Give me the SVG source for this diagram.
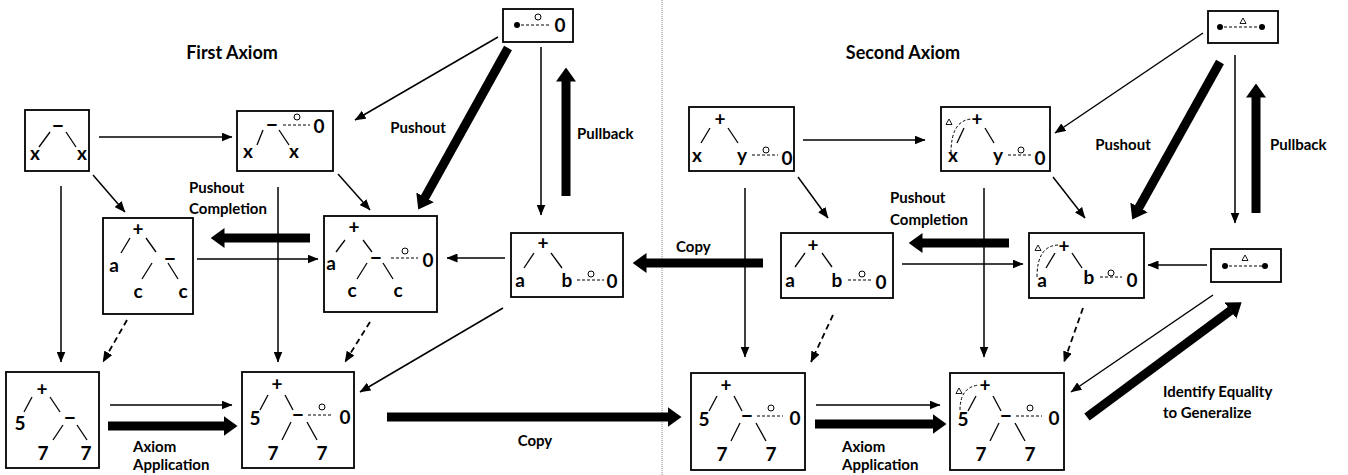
<svg xmlns="http://www.w3.org/2000/svg" width="1348" height="475" viewBox="0 0 1348 475">
<style>
text{font-family:Lato,"Open Sans","Liberation Sans",sans-serif;font-weight:700;fill:#000}
.t{font-size:18px;text-anchor:middle}
.lb{font-size:15px}
.n{font-size:19px;text-anchor:middle}
.m{font-size:23px;text-anchor:middle}
.box{fill:#fff;stroke:#000;stroke-width:1.8}
.br{stroke:#000;stroke-width:1.3;fill:none}
.dl{stroke:#000;stroke-width:1;stroke-dasharray:3,2;fill:none}
.sc{fill:#fff;stroke:#000;stroke-width:1}
.dot{fill:#000}
.tri{fill:#fff;stroke:#000;stroke-width:0.9}
.th{stroke:#000;stroke-width:1.5;fill:none;marker-end:url(#ah)}
.da{stroke:#000;stroke-width:1.8;stroke-dasharray:6,4;fill:none;marker-end:url(#ah)}
.tk{stroke:#000;stroke-width:9;fill:none;marker-end:url(#ahT)}
</style>
<defs>
<marker id="ah" markerWidth="11" markerHeight="9" refX="10.5" refY="4.5" orient="auto" markerUnits="userSpaceOnUse"><path d="M0,0 L11,4.5 L0,9 z" fill="#000"/></marker>
<marker id="ahT" markerWidth="14" markerHeight="20" refX="0.5" refY="10" orient="auto" markerUnits="userSpaceOnUse"><path d="M0,0 L14,10 L0,20 z" fill="#000"/></marker>
</defs>
<rect width="1348" height="475" fill="#fff"/>
<line x1="662" y1="0" x2="662" y2="475" stroke="#888" stroke-width="1" stroke-dasharray="1,1"/>
<text class="t" x="232" y="59">First Axiom</text>
<text class="t" x="903" y="59">Second Axiom</text>

<g id="connectors">
<line class="th" x1="99" y1="137" x2="232" y2="137"/>
<line class="th" x1="93" y1="175" x2="125" y2="212"/>
<line class="th" x1="61" y1="186" x2="61" y2="362"/>
<line class="th" x1="338" y1="174" x2="370" y2="210"/>
<line class="th" x1="278" y1="187" x2="278" y2="362"/>
<line class="th" x1="498" y1="37" x2="355" y2="120"/>
<line class="th" x1="541" y1="47" x2="541" y2="215"/>
<line class="th" x1="197" y1="259" x2="318" y2="259"/>
<line class="th" x1="505" y1="258" x2="447" y2="258"/>
<line class="th" x1="503" y1="308" x2="360" y2="392"/>
<line class="th" x1="110" y1="405" x2="232" y2="405"/>
<line class="da" x1="127" y1="320" x2="103" y2="362"/>
<line class="da" x1="370" y1="322" x2="345" y2="362"/>
<line class="th" x1="803" y1="140" x2="925" y2="140"/>
<line class="th" x1="798" y1="177" x2="828" y2="218"/>
<line class="th" x1="745" y1="188" x2="745" y2="357"/>
<line class="th" x1="1053" y1="177" x2="1085" y2="218"/>
<line class="th" x1="984" y1="188" x2="984" y2="357"/>
<line class="th" x1="1203" y1="33" x2="1055" y2="133"/>
<line class="th" x1="1235" y1="55" x2="1235" y2="223"/>
<line class="th" x1="1207" y1="265" x2="1148" y2="265"/>
<line class="th" x1="902" y1="264" x2="1023" y2="264"/>
<line class="th" x1="816" y1="405" x2="940" y2="405"/>
<line class="th" x1="1213" y1="295" x2="1071" y2="392"/>
<line class="da" x1="833" y1="315" x2="811" y2="362"/>
<line class="da" x1="1083" y1="308" x2="1064" y2="362"/>
<line class="tk" x1="508" y1="48" x2="424.8" y2="197.8"/>
<line class="tk" x1="566" y1="196" x2="566" y2="81"/>
<line class="tk" x1="310" y1="238" x2="224" y2="238"/>
<line class="tk" x1="763" y1="263" x2="646" y2="263"/>
<line class="tk" x1="108" y1="426" x2="224" y2="426"/>
<line class="tk" x1="387" y1="417" x2="668" y2="417"/>
<line class="tk" x1="1220" y1="62" x2="1138.8" y2="207.8"/>
<line class="tk" x1="1256" y1="213" x2="1256" y2="97"/>
<line class="tk" x1="1009" y1="243" x2="922" y2="243"/>
<line class="tk" x1="815" y1="424" x2="933" y2="424"/>
<line class="tk" x1="1087" y1="417" x2="1230.8" y2="310.3"/>
</g>

<g id="labels">
<text class="lb" x="418" y="133" text-anchor="middle">Pushout</text>
<text class="lb" x="577" y="139">Pullback</text>
<text class="lb" x="189" y="193">Pushout</text>
<text class="lb" x="189" y="214">Completion</text>
<text class="lb" x="133" y="452">Axiom</text>
<text class="lb" x="133" y="470">Application</text>
<text class="lb" x="535" y="446" text-anchor="middle">Copy</text>
<text class="lb" x="676" y="252">Copy</text>
<text class="lb" x="890" y="203">Pushout</text>
<text class="lb" x="890" y="225">Completion</text>
<text class="lb" x="1123" y="150" text-anchor="middle">Pushout</text>
<text class="lb" x="1270" y="150">Pullback</text>
<text class="lb" x="842" y="452">Axiom</text>
<text class="lb" x="842" y="470">Application</text>
<text class="lb" x="1163" y="397">Identify Equality</text>
<text class="lb" x="1163" y="418">to Generalize</text>
</g>

<g id="n1">
<rect class="box" x="25" y="110" width="64" height="61"/>
<text class="m" x="58" y="132.6">–</text>
<line class="br" x1="50" y1="132" x2="39" y2="147"/><line class="br" x1="66" y1="132" x2="76" y2="147"/>
<text class="n" x="35" y="160">x</text><text class="n" x="82" y="160">x</text>
</g>

<g id="n2">
<rect class="box" x="237" y="111" width="96" height="60"/>
<text class="m" x="272" y="131.6">–</text>
<line class="dl" x1="283" y1="125" x2="310" y2="125"/>
<circle class="sc" cx="297" cy="117" r="3"/>
<text class="n" x="319" y="132.5">0</text>
<line class="br" x1="263" y1="130" x2="257" y2="145"/><line class="br" x1="279" y1="130" x2="289" y2="145"/>
<text class="n" x="248" y="157.6">x</text><text class="n" x="294" y="157.6">x</text>
</g>

<g id="n3">
<rect class="box" x="503" y="9" width="70" height="33"/>
<circle class="dot" cx="517" cy="25" r="3"/>
<line class="dl" x1="521" y1="25" x2="550" y2="25"/>
<circle class="sc" cx="538" cy="17" r="3"/>
<text class="n" x="560" y="31.5">0</text>
</g>

<g id="n4">
<rect class="box" x="103" y="218" width="90" height="96"/>
<text class="n" x="138" y="236">+</text>
<line class="br" x1="130" y1="238" x2="121" y2="253"/><line class="br" x1="146" y1="238" x2="156" y2="252"/>
<text class="n" x="114" y="271.6">a</text>
<text class="m" x="170" y="265.6">–</text>
<line class="br" x1="152" y1="263" x2="142" y2="279"/><line class="br" x1="168" y1="263" x2="178" y2="279"/>
<text class="n" x="138" y="297.6">c</text><text class="n" x="183" y="297.6">c</text>
</g>

<g id="n5">
<rect class="box" x="324" y="216" width="113" height="96"/>
<text class="n" x="354" y="234">+</text>
<line class="br" x1="345" y1="240" x2="336" y2="252"/><line class="br" x1="363" y1="240" x2="372" y2="252"/>
<text class="n" x="331" y="269.6">a</text>
<text class="m" x="376" y="264.6">–</text>
<line class="dl" x1="391" y1="258" x2="418" y2="258"/>
<circle class="sc" cx="405" cy="251" r="3"/>
<text class="n" x="428" y="266.5">0</text>
<line class="br" x1="367" y1="263" x2="357" y2="279"/><line class="br" x1="383" y1="263" x2="393" y2="279"/>
<text class="n" x="352" y="296.6">c</text><text class="n" x="398" y="296.6">c</text>
</g>

<g id="n6">
<rect class="box" x="511" y="233" width="112" height="64"/>
<text class="n" x="543" y="250">+</text>
<line class="br" x1="534" y1="253" x2="524" y2="268"/><line class="br" x1="551" y1="253" x2="562" y2="268"/>
<text class="n" x="520" y="286.6">a</text>
<text class="n" x="567" y="286.5">b</text>
<line class="dl" x1="577" y1="280" x2="604" y2="280"/>
<circle class="sc" cx="591" cy="274" r="3"/>
<text class="n" x="612" y="287.5">0</text>
</g>

<g id="n7">
<rect class="box" x="6" y="372" width="93" height="96"/>
<text class="n" x="42" y="396">+</text>
<line class="br" x1="32" y1="397" x2="24" y2="412"/><line class="br" x1="50" y1="397" x2="60" y2="412"/>
<text class="n" x="20" y="429.5">5</text>
<text class="m" x="70" y="424.6">–</text>
<line class="br" x1="63" y1="425" x2="53" y2="440"/><line class="br" x1="77" y1="425" x2="87" y2="440"/>
<text class="n" x="43" y="459.5">7</text><text class="n" x="86" y="459.5">7</text>
</g>

<g id="n8">
<rect class="box" x="242" y="372" width="112" height="96"/>
<text class="n" x="277" y="391">+</text>
<line class="br" x1="268" y1="395" x2="260" y2="410"/><line class="br" x1="285" y1="395" x2="293" y2="410"/>
<text class="n" x="255" y="424.5">5</text>
<text class="m" x="298" y="421.6">–</text>
<line class="dl" x1="308" y1="415" x2="332" y2="415"/>
<circle class="sc" cx="322" cy="407" r="3"/>
<text class="n" x="345" y="423.5">0</text>
<line class="br" x1="291" y1="422" x2="282" y2="440"/><line class="br" x1="307" y1="422" x2="317" y2="440"/>
<text class="n" x="273" y="459.5">7</text><text class="n" x="322" y="459.5">7</text>
</g>

<g id="n9">
<rect class="box" x="689" y="107" width="105" height="64"/>
<text class="n" x="720" y="126">+</text>
<line class="br" x1="710" y1="128" x2="701" y2="143"/><line class="br" x1="728" y1="128" x2="738" y2="143"/>
<text class="n" x="697" y="161.6">x</text>
<text class="n" x="742" y="161.6">y</text>
<line class="dl" x1="752" y1="155" x2="778" y2="155"/>
<circle class="sc" cx="766" cy="150" r="3"/>
<text class="n" x="787" y="164.5">0</text>
</g>

<g id="n10">
<rect class="box" x="941" y="107" width="109" height="64"/>
<path class="dl" d="M951,153 Q951,120 972,119"/>
<polygon class="tri" points="949,119 946,124.5 952,124.5"/>
<text class="n" x="977" y="126">+</text>
<line class="br" x1="964" y1="128" x2="957" y2="143"/><line class="br" x1="985" y1="128" x2="994" y2="143"/>
<text class="n" x="953" y="161.6">x</text>
<text class="n" x="998" y="161.6">y</text>
<line class="dl" x1="1008" y1="155" x2="1033" y2="155"/>
<circle class="sc" cx="1021" cy="150" r="3"/>
<text class="n" x="1040" y="164.5">0</text>
</g>

<g id="n11">
<rect class="box" x="781" y="233" width="112" height="65"/>
<text class="n" x="813" y="252">+</text>
<line class="br" x1="805" y1="253" x2="795" y2="267"/><line class="br" x1="822" y1="253" x2="832" y2="267"/>
<text class="n" x="790" y="286.6">a</text>
<text class="n" x="837" y="286.5">b</text>
<line class="dl" x1="848" y1="280" x2="873" y2="280"/>
<circle class="sc" cx="862" cy="274" r="3"/>
<text class="n" x="881" y="288.5">0</text>
</g>

<g id="n12">
<rect class="box" x="1029" y="233" width="115" height="65"/>
<path class="dl" d="M1037,277 Q1037,246 1058,245"/>
<polygon class="tri" points="1038,245 1035,250.5 1041,250.5"/>
<text class="n" x="1064" y="253">+</text>
<line class="br" x1="1055" y1="253" x2="1046" y2="268"/><line class="br" x1="1072" y1="253" x2="1082" y2="268"/>
<text class="n" x="1042" y="286.6">a</text>
<text class="n" x="1089" y="283.5">b</text>
<line class="dl" x1="1100" y1="277" x2="1122" y2="277"/>
<circle class="sc" cx="1111" cy="273" r="3"/>
<text class="n" x="1132" y="286.5">0</text>
</g>

<g id="n13">
<rect class="box" x="1208" y="11" width="70" height="32"/>
<circle class="dot" cx="1220" cy="27" r="3"/>
<line class="dl" x1="1224" y1="27" x2="1259" y2="27"/>
<polygon class="tri" points="1243,18 1240,23.5 1246,23.5"/>
<circle class="dot" cx="1262" cy="27" r="3"/>
</g>

<g id="n14">
<rect class="box" x="1211" y="249" width="70" height="33"/>
<circle class="dot" cx="1225" cy="266" r="3"/>
<line class="dl" x1="1229" y1="266" x2="1262" y2="266"/>
<polygon class="tri" points="1245,255 1242,260.5 1248,260.5"/>
<circle class="dot" cx="1265" cy="266" r="3"/>
</g>

<g id="n15" transform="translate(449,1)">
<rect class="box" x="242" y="372" width="114" height="97"/>
<text class="n" x="277" y="391">+</text>
<line class="br" x1="268" y1="395" x2="260" y2="410"/><line class="br" x1="285" y1="395" x2="293" y2="410"/>
<text class="n" x="255" y="424.5">5</text>
<text class="m" x="298" y="421.6">–</text>
<line class="dl" x1="308" y1="415" x2="334" y2="415"/>
<circle class="sc" cx="322" cy="407" r="3"/>
<text class="n" x="346" y="423.5">0</text>
<line class="br" x1="291" y1="422" x2="282" y2="440"/><line class="br" x1="307" y1="422" x2="317" y2="440"/>
<text class="n" x="273" y="459.5">7</text><text class="n" x="322" y="459.5">7</text>
</g>

<g id="n16" transform="translate(708,1)">
<rect class="box" x="242" y="372" width="114" height="97"/>
<path class="dl" d="M252,409 Q252,386 271,384"/>
<polygon class="tri" points="251,387 248,392.5 254,392.5"/>
<text class="n" x="277" y="391">+</text>
<line class="br" x1="268" y1="395" x2="260" y2="410"/><line class="br" x1="285" y1="395" x2="293" y2="410"/>
<text class="n" x="255" y="424.5">5</text>
<text class="m" x="298" y="421.6">–</text>
<line class="dl" x1="308" y1="415" x2="334" y2="415"/>
<circle class="sc" cx="322" cy="407" r="3"/>
<text class="n" x="346" y="423.5">0</text>
<line class="br" x1="291" y1="422" x2="282" y2="440"/><line class="br" x1="307" y1="422" x2="317" y2="440"/>
<text class="n" x="273" y="459.5">7</text><text class="n" x="322" y="459.5">7</text>
</g>
</svg>
